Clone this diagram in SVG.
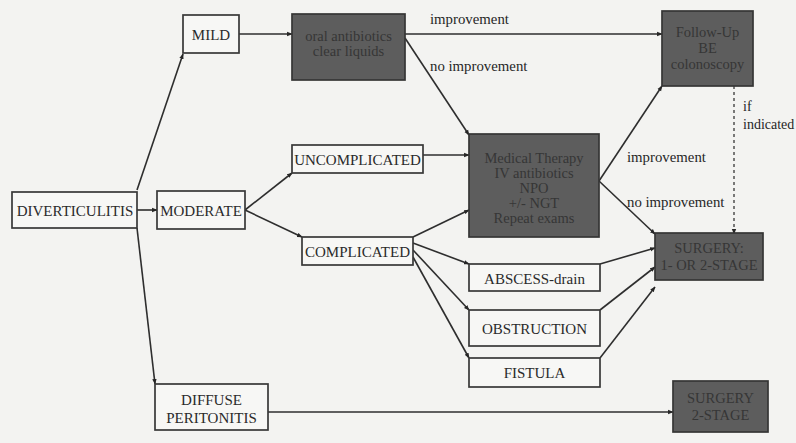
<svg xmlns="http://www.w3.org/2000/svg" width="796" height="443" viewBox="0 0 796 443">
  <defs>
    <marker id="arrow" viewBox="0 0 10 10" refX="9" refY="5" markerWidth="5.5" markerHeight="5.5" orient="auto-start-reverse" markerUnits="userSpaceOnUse">
      <path d="M0,1 L10,5 L0,9 z" fill="#262626"/>
    </marker>
    <style>
      text { font-family: "Liberation Serif", "DejaVu Serif", "Times New Roman", serif; }
      .box { fill: #f7f7f5; stroke: #383838; stroke-width: 1.7; }
      .dark { fill: #5d5d5d; stroke: #353535; stroke-width: 1.7; }
      .lbl { font-size: 15px; fill: #2a2a2a; text-anchor: middle; }
      .dtxt { font-size: 14.5px; fill: #363636; text-anchor: middle; }
      .edge { font-size: 14.8px; fill: #262626; }
      .conn { stroke: #2e2e2e; stroke-width: 1.6; fill: none; marker-end: url(#arrow); }
      .dash { stroke: #444; stroke-width: 1.4; fill: none; stroke-dasharray: 3 3; marker-end: url(#arrow); }
    </style>
  </defs>

  <rect x="0" y="0" width="796" height="443" fill="#f3f3f1"/>

  <!-- connectors -->
  <g id="connectors">
    <path class="conn" d="M137,190 L183,54"/>
    <path class="conn" d="M137,210 L157,210"/>
    <path class="conn" d="M137,228 L155,384"/>
    <path class="conn" d="M239,34 L292,34"/>
    <path class="conn" d="M405,34 L662,34"/>
    <path class="conn" d="M405,38 L469,135"/>
    <path class="conn" d="M245,210 L292,173"/>
    <path class="conn" d="M245,210 L302,237"/>
    <path class="conn" d="M423,155 L469,155"/>
    <path class="conn" d="M413,237 L469,210"/>
    <path class="conn" d="M413,243 L469,264"/>
    <path class="conn" d="M413,250 L469,310"/>
    <path class="conn" d="M413,257 L469,358"/>
    <path class="conn" d="M599,181 L662,86"/>
    <path class="conn" d="M599,181 L655,234"/>
    <path class="conn" d="M600,264 L655,248"/>
    <path class="conn" d="M600,310 L655,267"/>
    <path class="conn" d="M600,358 L655,287"/>
    <path class="dash" d="M734,86 L734,234"/>
    <path class="conn" d="M268,412 L673,412"/>
    <text class="edge" x="430" y="24">improvement</text>
    <text class="edge" x="430" y="71">no improvement</text>
    <text class="edge" x="627" y="162">improvement</text>
    <text class="edge" x="627" y="207">no improvement</text>
    <text class="edge" x="743" y="111" style="font-size:14px">if</text>
    <text class="edge" x="743" y="129" style="font-size:14px">indicated</text>
  </g>

  <!-- nodes -->
  <g id="diverticulitis">
    <rect class="box" x="12" y="192" width="125" height="36"/>
    <text class="lbl" x="75" y="215.5">DIVERTICULITIS</text>
  </g>
  <g id="mild">
    <rect class="box" x="183" y="15" width="56" height="38"/>
    <text class="lbl" x="211" y="39.5">MILD</text>
  </g>
  <g id="moderate">
    <rect class="box" x="157" y="191" width="88" height="38"/>
    <text class="lbl" x="201" y="215.5">MODERATE</text>
  </g>
  <g id="diffuse-peritonitis">
    <rect class="box" x="155" y="384" width="113" height="46"/>
    <text class="lbl" x="211.5" y="405">DIFFUSE</text>
    <text class="lbl" x="211.5" y="423">PERITONITIS</text>
  </g>
  <g id="oral-antibiotics">
    <rect class="dark" x="292" y="14" width="113" height="66"/>
    <text class="dtxt" x="348.5" y="41">oral antibiotics</text>
    <text class="dtxt" x="348.5" y="56">clear liquids</text>
  </g>
  <g id="uncomplicated">
    <rect class="box" x="292" y="145" width="131" height="28"/>
    <text class="lbl" x="357.5" y="164.5">UNCOMPLICATED</text>
  </g>
  <g id="complicated">
    <rect class="box" x="302" y="237" width="111" height="28"/>
    <text class="lbl" x="357.5" y="256.5">COMPLICATED</text>
  </g>
  <g id="medical-therapy">
    <rect class="dark" x="469" y="134" width="130" height="103"/>
    <text class="dtxt" x="534" y="163">Medical Therapy</text>
    <text class="dtxt" x="534" y="178">IV antibiotics</text>
    <text class="dtxt" x="534" y="193">NPO</text>
    <text class="dtxt" x="534" y="208">+/- NGT</text>
    <text class="dtxt" x="534" y="223">Repeat exams</text>
  </g>
  <g id="abscess">
    <rect class="box" x="469" y="264" width="131" height="27"/>
    <text class="lbl" x="534.5" y="283.5">ABSCESS-drain</text>
  </g>
  <g id="obstruction">
    <rect class="box" x="469" y="310" width="131" height="36"/>
    <text class="lbl" x="534.5" y="333.5">OBSTRUCTION</text>
  </g>
  <g id="fistula">
    <rect class="box" x="469" y="358" width="131" height="29"/>
    <text class="lbl" x="534.5" y="378">FISTULA</text>
  </g>
  <g id="follow-up">
    <rect class="dark" x="662" y="11" width="91" height="75"/>
    <text class="dtxt" x="707.5" y="37">Follow-Up</text>
    <text class="dtxt" x="707.5" y="53">BE</text>
    <text class="dtxt" x="707.5" y="69">colonoscopy</text>
  </g>
  <g id="surgery-1-or-2">
    <rect class="dark" x="655" y="233" width="108" height="47"/>
    <text class="dtxt" x="709" y="253">SURGERY:</text>
    <text class="dtxt" x="709" y="270">1- OR 2-STAGE</text>
  </g>
  <g id="surgery-2">
    <rect class="dark" x="673" y="381" width="95" height="51"/>
    <text class="dtxt" x="720.5" y="403">SURGERY</text>
    <text class="dtxt" x="720.5" y="420">2-STAGE</text>
  </g>
</svg>
